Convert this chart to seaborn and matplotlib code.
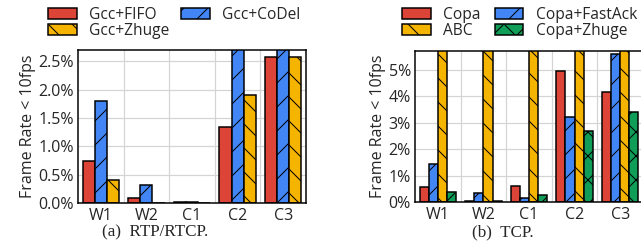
import numpy as np
import pandas as pd
import matplotlib
matplotlib.use('Agg')
from matplotlib import pyplot as plt
from matplotlib.patches import Patch
import seaborn as sns

# data (percent of time with frame rate < 10fps)
groups = ['W1', 'W2', 'C1', 'C2', 'C3']

rtp_methods = ['Gcc+FIFO', 'Gcc+CoDel', 'Gcc+Zhuge']
gcc_fifo = [0.75, 0.08, 0.01, 1.35, 2.58]
gcc_codel = [1.80, 0.31, 0.02, 3.00, 3.00]
gcc_zhuge = [0.41, 0.00, 0.00, 1.91, 2.58]

tcp_methods = ['Copa', 'Copa+FastAck', 'ABC', 'Copa+Zhuge']
copa = [0.55, 0.04, 0.62, 4.95, 4.17]
copa_fastack = [1.45, 0.33, 0.16, 3.22, 5.58]
abc = [6.50, 6.50, 6.50, 6.50, 6.50]
copa_zhuge = [0.36, 0.03, 0.25, 2.67, 3.41]

red = '#DB4437'
blue = '#4285F4'
yellow = '#F4B400'
green = '#0F9D58'

df_rtp = pd.DataFrame({
    'group': groups * 3,
    'method': np.repeat(rtp_methods, 5),
    'value': gcc_fifo + gcc_codel + gcc_zhuge,
})
df_tcp = pd.DataFrame({
    'group': groups * 4,
    'method': np.repeat(tcp_methods, 5),
    'value': copa + copa_fastack + abc + copa_zhuge,
})

sns.set_style('white')
plt.rcParams['font.family'] = ['Open Sans', 'DejaVu Sans']
plt.rcParams['hatch.linewidth'] = 1.0

W, H = 641, 242
fig = plt.figure(figsize=(W / 72, H / 72), dpi=72)
ax1 = fig.add_axes([78 / W, 39 / H, 228 / W, 153 / H])
ax2 = fig.add_axes([415 / W, 40 / H, 228 / W, 151 / H])


def draw(ax, df, methods, colors, hatches, ymax, ticks, fmt):
    ax.set_axisbelow(True)
    sns.barplot(data=df, x='group', y='value', hue='method', hue_order=methods,
                palette=colors, edgecolor='black', linewidth=1.5, width=0.8,
                saturation=1, ax=ax, legend=False)
    n = len(groups)
    for i, p in enumerate(ax.patches):
        p.set_hatch(hatches[i // n])
    ax.set_xlim(-0.5, 4.5)
    ax.set_ylim(0, ymax)
    ax.set_yticks(ticks)
    ax.set_yticklabels([fmt.format(t) for t in ticks])
    ax.set_xticks(np.arange(0.5, 4.5, 1), minor=True)
    ax.grid(axis='y', which='major', color='#d4d4d4', linewidth=1.2)
    ax.grid(axis='x', which='minor', color='#d4d4d4', linewidth=1.2)
    ax.tick_params(which='both', length=0, labelsize=16)
    ax.tick_params(axis='x', pad=5)
    ax.tick_params(axis='y', pad=4)
    ax.set_xlabel('')
    ax.set_ylabel('Frame Rate < 10fps', fontsize=16, labelpad=3)
    for s in ax.spines.values():
        s.set_color('black')
        s.set_linewidth(1.5)


draw(ax1, df_rtp, rtp_methods, [red, blue, yellow], ['', '/', '\\'],
     2.7, [0, 0.5, 1.0, 1.5, 2.0, 2.5], '{:.1f}%')
draw(ax2, df_tcp, tcp_methods, [red, blue, yellow, green], ['', '/', '\\', 'x'],
     5.7, [0, 1, 2, 3, 4, 5], '{:.0f}%')


def handle(c, h):
    return Patch(facecolor=c, edgecolor='black', hatch=h, linewidth=1.5)


leg_kw = dict(loc='upper left', frameon=False, ncol=2, fontsize=15.5,
              handlelength=1.85, handleheight=0.7, handletextpad=0.8,
              labelspacing=0.0, borderpad=0, borderaxespad=0)
fig.legend([handle(red, ''), handle(yellow, '\\'), handle(blue, '/')],
           ['Gcc+FIFO', 'Gcc+Zhuge', 'Gcc+CoDel'],
           bbox_to_anchor=(48 / W, 1 - 7 / H), columnspacing=0.75, **leg_kw)
fig.legend([handle(red, ''), handle(yellow, '\\'), handle(blue, '/'), handle(green, 'x')],
           ['Copa', 'ABC', 'Copa+FastAck', 'Copa+Zhuge'],
           bbox_to_anchor=(402 / W, 1 - 7 / H), columnspacing=0.9, **leg_kw)

fig.text(102 / W, 1 - 236 / H, '(a)  RTP/RTCP.', family='Liberation Serif',
         fontsize=17, ha='left', va='baseline')
fig.text(472 / W, 1 - 236 / H, '(b)  TCP.', family='Liberation Serif',
         fontsize=17, ha='left', va='baseline')

fig.savefig('out.png', dpi=72)
